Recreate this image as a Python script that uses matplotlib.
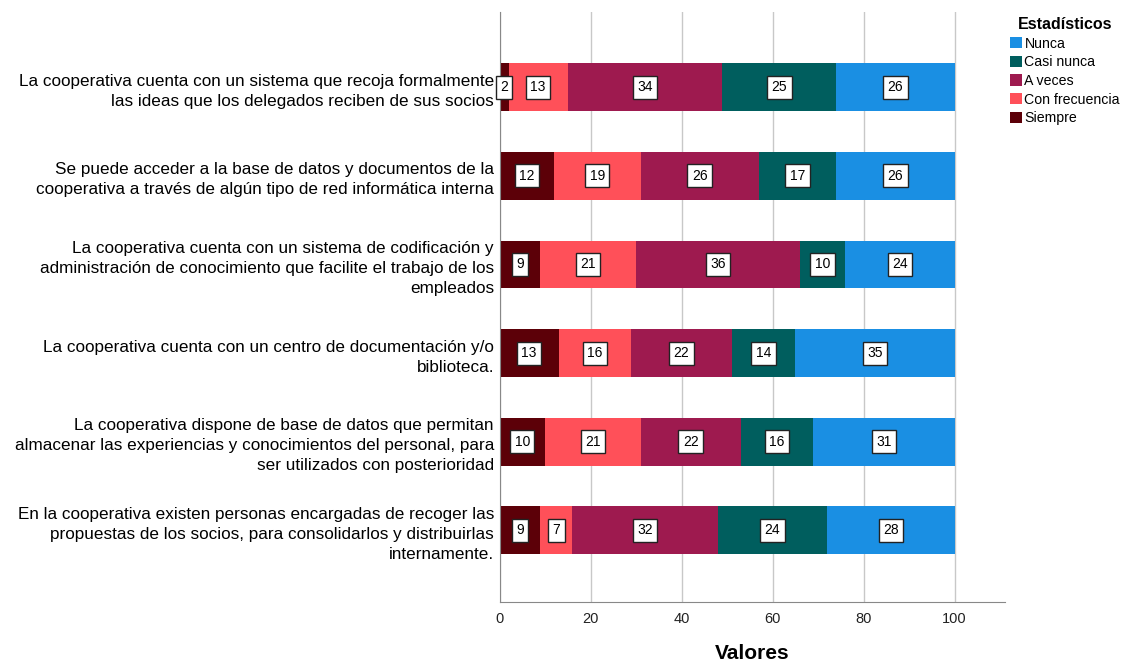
import numpy as np
import matplotlib.pyplot as plt

plt.rcParams['font.family'] = ['Liberation Sans', 'DejaVu Sans']

preguntas = [
    'La cooperativa cuenta con un sistema que recoja formalmente\nlas ideas que los delegados reciben de sus socios',
    'Se puede acceder a la base de datos y documentos de la\ncooperativa a través de algún tipo de red informática interna',
    'La cooperativa cuenta con un sistema de codificación y\nadministración de conocimiento que facilite el trabajo de los\nempleados',
    'La cooperativa cuenta con un centro de documentación y/o\nbiblioteca.',
    'La cooperativa dispone de base de datos que permitan\nalmacenar las experiencias y conocimientos del personal, para\nser utilizados con posterioridad',
    'En la cooperativa existen personas encargadas de recoger las\npropuestas de los socios, para consolidarlos y distribuirlas\ninternamente.',
]

siempre = [2, 12, 9, 13, 10, 9]
con_frecuencia = [13, 19, 21, 16, 21, 7]
a_veces = [34, 26, 36, 22, 22, 32]
casi_nunca = [25, 17, 10, 14, 16, 24]
nunca = [26, 26, 24, 35, 31, 28]

series = [
    ('Siempre', siempre, '#5c0008'),
    ('Con frecuencia', con_frecuencia, '#ff5059'),
    ('A veces', a_veces, '#9e1a4f'),
    ('Casi nunca', casi_nunca, '#005e5e'),
    ('Nunca', nunca, '#1a8fe3'),
]

fig = plt.figure(figsize=(11.25, 6.66), dpi=100)
ax = fig.add_axes([0.444, 0.096, 0.449, 0.886])

y = np.arange(len(preguntas))
left = np.zeros(len(preguntas))
handles = {}
for nombre, vals, color in series:
    vals = np.array(vals, dtype=float)
    bars = ax.barh(y, vals, left=left, height=0.54, color=color, zorder=2)
    handles[nombre] = bars
    # etiqueta con el valor en el centro de cada segmento
    for yi, l, v in zip(y, left, vals):
        ax.text(l + v / 2, yi, f'{int(v)}', ha='center', va='center', fontsize=10,
                zorder=4,
                bbox=dict(boxstyle='square,pad=0.32', fc='white', ec='#222222', lw=1.0))
    left += vals

ax.set_ylim(5.81, -0.85)
ax.set_xlim(0, 111)
ax.set_xticks([0, 20, 40, 60, 80, 100])
ax.set_yticks(y)
ax.set_yticklabels(preguntas, fontsize=12.3, ha='right', linespacing=1.42)
ax.tick_params(axis='y', length=0, pad=4)
ax.tick_params(axis='x', length=0, pad=7, labelsize=10.5, colors='#222222')
ax.grid(axis='x', color='#c8c8c8', lw=1, zorder=0)
ax.set_axisbelow(True)
for s in ['top', 'right']:
    ax.spines[s].set_visible(False)
for s in ['left', 'bottom']:
    ax.spines[s].set_color('#888888')
ax.set_xlabel('Valores', fontsize=15, fontweight='bold', labelpad=13)

orden = ['Nunca', 'Casi nunca', 'A veces', 'Con frecuencia', 'Siempre']
leg = fig.legend([handles[n] for n in orden], orden, loc='upper left',
                 bbox_to_anchor=(0.893, 0.983), frameon=False, fontsize=10.2,
                 title='Estadísticos', title_fontproperties={'weight': 'bold', 'size': 11.5},
                 handlelength=0.85, handleheight=0.85, handletextpad=0.15,
                 labelspacing=0.33, borderaxespad=0)

fig.savefig('out.png', dpi=100)
